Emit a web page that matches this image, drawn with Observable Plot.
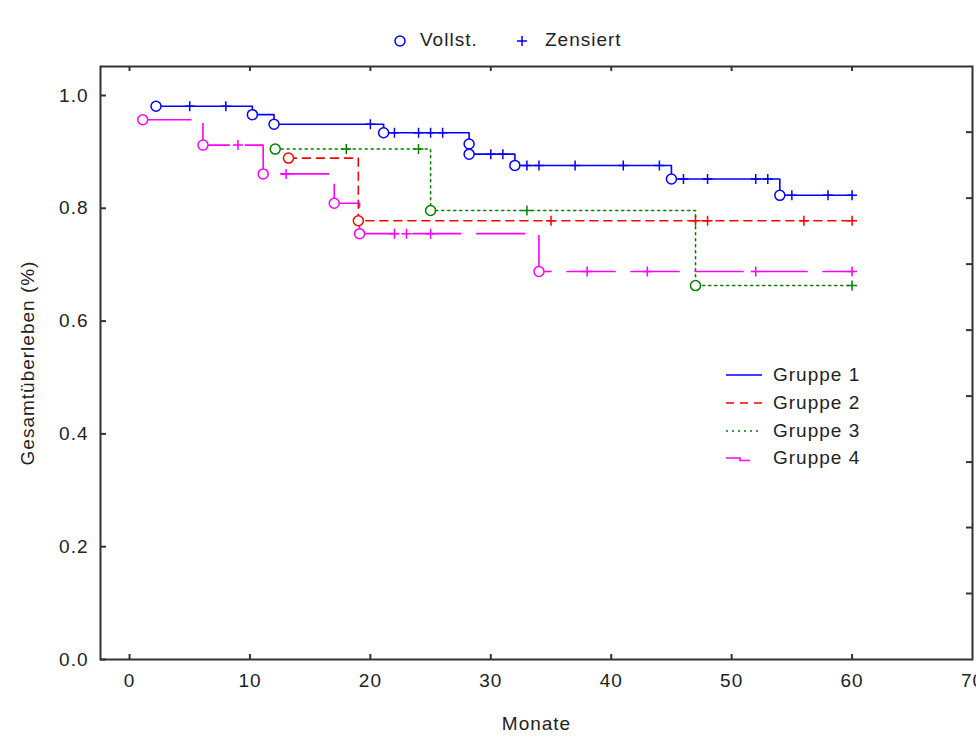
<!DOCTYPE html>
<html><head><meta charset="utf-8">
<script src="https://cdn.jsdelivr.net/npm/d3@7"></script>
<script src="https://cdn.jsdelivr.net/npm/@observablehq/plot@0.6"></script>
<style>
body{margin:0;background:#fff;font-family:"Liberation Sans",Arial,sans-serif;color:#222;}
#wrap{position:relative;width:976px;height:739px;overflow:hidden;background:#fff;}
#chart{position:absolute;left:0;top:60px;}
.t{position:absolute;font-size:19px;letter-spacing:1px;line-height:20px;white-space:nowrap;color:#222;}
.sw{position:absolute;overflow:visible;}
</style></head><body>
<div id="wrap">
  <div id="chart"></div>
  <svg class="sw" style="left:390px;top:31px" width="20" height="20"><circle cx="10" cy="10" r="5" fill="none" stroke="#0000ff" stroke-width="1.5"/></svg>
  <div class="t" style="left:420px;top:30px">Vollst.</div>
  <svg class="sw" style="left:512px;top:31px" width="20" height="20"><path d="M5,10H15M10,5V15" stroke="#0000ff" stroke-width="1.5"/></svg>
  <div class="t" style="left:545px;top:30px">Zensiert</div>
  <div id="legend"></div>
</div>
<script>
// ---- data ----
const groups = ["Gruppe 1", "Gruppe 2", "Gruppe 3", "Gruppe 4"];
const colors = ["#0000ff", "#ff0000", "#008000", "#ff00ff"];
const dashes = [null, "8,6", "2,4", "48,16"];

const g1EventTimes = [2.2, 10.2, 12.0, 21.1, 28.2, 28.2, 32.0, 45.0, 54.0];
const g1EventSurv  = [0.981, 0.966, 0.949, 0.934, 0.914, 0.896, 0.876, 0.852, 0.823];
const g1Censored   = [5, 8, 20, 22, 24, 25, 26, 30, 31, 33, 34, 37, 41, 44, 46, 48, 52, 53, 55, 58, 60];

const g2EventTimes = [13.2, 19.0];
const g2EventSurv  = [0.889, 0.778];
const g2Censored   = [35, 47, 48, 56, 60];

const g3EventTimes = [12.1, 25.0, 47.0];
const g3EventSurv  = [0.905, 0.796, 0.663];
const g3Censored   = [18, 24, 33, 60];

const g4EventTimes = [1.1, 6.1, 11.1, 17.0, 19.1, 34.0];
const g4EventSurv  = [0.957, 0.912, 0.861, 0.809, 0.755, 0.688];
const g4Censored   = [9, 13, 22, 23, 25, 38, 43, 52, 60];

const lastFollowUp = [60, 60, 60, 60];

const xTicks = [0, 10, 20, 30, 40, 50, 60, 70];
const yTicks = [0, 0.2, 0.4, 0.6, 0.8, 1.0];
const rightTicks = [0.117, 0.234, 0.350, 0.467, 0.584, 0.701, 0.818, 0.935];
const xDomain = [-2.41, 70];
const yDomain = [0, 1.0514];

// ---- build tables ----
const raw = [
  [g1EventTimes, g1EventSurv, g1Censored],
  [g2EventTimes, g2EventSurv, g2Censored],
  [g3EventTimes, g3EventSurv, g3Censored],
  [g4EventTimes, g4EventSurv, g4Censored]
];
const paths = [], events = [], censors = [];
raw.forEach(([ts, ss, cs], i) => {
  const g = groups[i];
  const p = ts.map((t, j) => ({group: g, t, s: ss[j]}));
  p.push({group: g, t: lastFollowUp[i], s: ss[ss.length - 1]});
  paths.push(p);
  ts.forEach((t, j) => events.push({group: g, t, s: ss[j]}));
  cs.forEach(t => {
    let s = ss[0];
    ts.forEach((et, j) => { if (et <= t) s = ss[j]; });
    censors.push({group: g, t, s});
  });
});

const W = 976, H = 679, mL = 100, mR = 4, mT = 6, mB = 80;
const fw = W - mL - mR, fh = H - mT - mB;
const axisCol = "#333";

const plusSymbol = {
  draw(ctx, size) {
    const r = Math.sqrt(size / Math.PI);
    ctx.moveTo(-r, 0); ctx.lineTo(r, 0);
    ctx.moveTo(0, -r); ctx.lineTo(0, r);
  }
};

const chart = Plot.plot({
  width: W, height: H,
  marginLeft: mL, marginRight: mR, marginTop: mT, marginBottom: mB,
  style: {fontFamily: '"Liberation Sans", Arial, sans-serif', fontSize: "19px", letterSpacing: "1px", color: "#222", background: "transparent", overflow: "hidden"},
  x: {domain: xDomain},
  y: {domain: yDomain},
  color: {domain: groups, range: colors},
  marks: [
    // inward tick marks
    Plot.tickY(yTicks, {y: d => d, insetRight: fw - 6, stroke: axisCol, strokeWidth: 2}),
    Plot.tickY(rightTicks, {y: d => d, insetLeft: fw - 6, stroke: axisCol, strokeWidth: 2}),
    Plot.tickX(xTicks.slice(0, 7), {x: d => d, insetTop: fh - 5, stroke: axisCol, strokeWidth: 2}),
    Plot.tickX(xTicks.slice(0, 7), {x: d => d, insetBottom: fh - 5, stroke: axisCol, strokeWidth: 2}),
    Plot.axisX({ticks: xTicks, tickSize: 0, tickPadding: 14, tickFormat: d => String(d),
      label: "Monate", labelAnchor: "center", labelOffset: 70, labelArrow: "none"}),
    Plot.axisY({ticks: yTicks, tickSize: 0, tickPadding: 12, tickFormat: d3.format(".1f"),
      label: "Gesamtüberleben (%)", labelAnchor: "center", labelOffset: 80, labelArrow: "none"}),
    ...paths.map((p, i) => Plot.line(p, {x: "t", y: "s", curve: "step-after",
      stroke: colors[i], strokeWidth: 1.6, strokeDasharray: dashes[i] ?? undefined})),
    Plot.dot(events, {x: "t", y: "s", r: 5, stroke: "group", fill: "white", strokeWidth: 1.5}),
    Plot.dot(censors, {x: "t", y: "s", r: 5, symbol: plusSymbol, stroke: "group", fill: "none", strokeWidth: 1.5}),
    Plot.frame({stroke: axisCol, strokeWidth: 2})
  ]
});
document.getElementById("chart").appendChild(chart);

// ---- right legend (HTML) ----
const legend = document.getElementById("legend");
const legY = [375, 402.5, 430.5, 458];
groups.forEach((g, i) => {
  const svgNS = "http://www.w3.org/2000/svg";
  const s = document.createElementNS(svgNS, "svg");
  s.setAttribute("class", "sw");
  s.setAttribute("width", 40); s.setAttribute("height", 10);
  s.style.left = "724px"; s.style.top = (legY[i] - 5) + "px";
  const path = document.createElementNS(svgNS, "path");
  path.setAttribute("d", i === 3 ? "M2,5H16V7.5H26" : "M2,5H38");
  path.setAttribute("fill", "none");
  path.setAttribute("stroke", colors[i]);
  path.setAttribute("stroke-width", 1.6);
  if (i === 1) path.setAttribute("stroke-dasharray", "8,6");
  if (i === 2) path.setAttribute("stroke-dasharray", "2,4");
  s.appendChild(path);
  legend.appendChild(s);
  const t = document.createElement("div");
  t.className = "t";
  t.style.left = "773px"; t.style.top = (legY[i] - 10) + "px";
  t.textContent = g;
  legend.appendChild(t);
});
</script>
</body></html>
